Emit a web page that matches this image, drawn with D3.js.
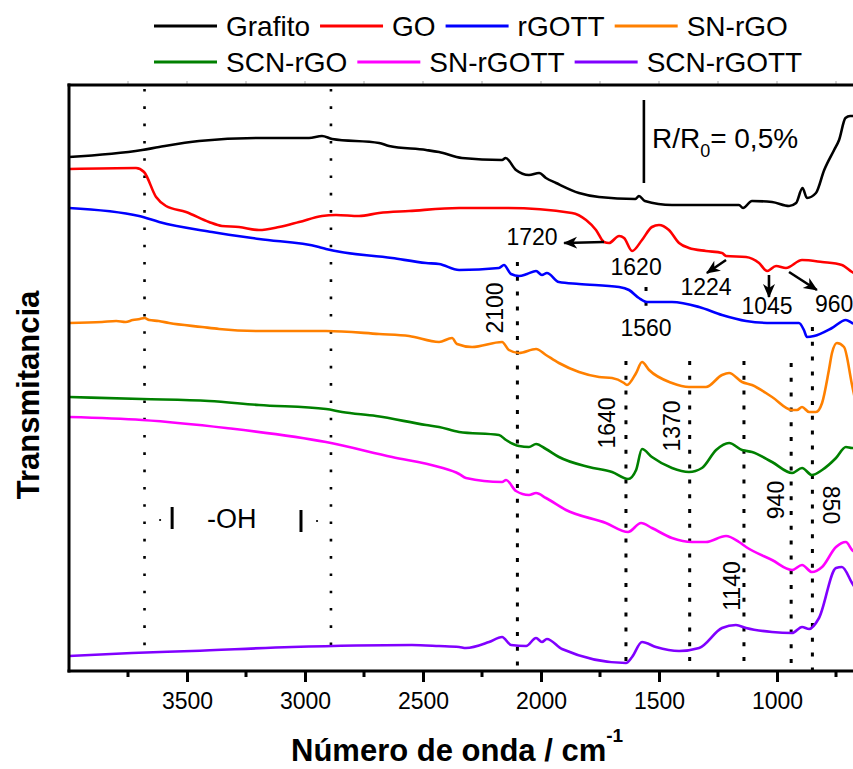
<!DOCTYPE html>
<html>
<head>
<meta charset="utf-8">
<script src="https://cdn.jsdelivr.net/npm/d3@7"></script>
<style>
  html, body { margin: 0; padding: 0; background: #fff; }
  svg { display: block; font-family: "Liberation Sans", Arial, sans-serif; }
</style>
</head>
<body>
<svg id="chart" width="853" height="769"></svg>
<script>
// FTIR spectra, wavenumber (cm-1) vs. offset transmittance (a.u.)
const seriesNames = ["Grafito", "GO", "rGOTT", "SN-rGO", "SCN-rGO", "SN-rGOTT", "SCN-rGOTT"];
const seriesColors = ["#000000", "#ff0000", "#0000ff", "#ff8000", "#008000", "#ff00ff", "#8000ff"];

const grafito = [[4000,514],[3690,521],[3618,524],[3449,530],[3195,533],[2983,533],[2928,535],[2885,532],[2686,528],[2644,525],[2487,521],[2432,519],[2335,513],[2165,511],[2150,513],[2106,501],[2051,496],[2008,498],[1979,493],[1936,488],[1839,478],[1754,474],[1600,472],[1585,475],[1560,470],[1445,466],[1161,466],[1144,463],[1106,470],[1021,469],[949,465],[919,468],[892,483],[873,473],[835,478],[800,501],[758,521],[737,531],[710,553],[690,555],[650,555]];
const go = [[4000,502],[3716,503],[3682,499],[3631,474],[3589,465],[3504,459],[3407,449],[3352,445],[3280,444],[3195,441],[3110,444],[3025,449],[2928,455],[2869,456],[2771,455],[2686,458],[2559,460],[2347,463],[2148,463],[1869,458],[1809,451],[1767,441],[1733,429],[1712,428],[1669,435],[1648,433],[1614,420],[1572,431],[1530,444],[1500,446],[1458,441],[1415,428],[1373,423],[1301,420],[1233,418],[1216,415],[1131,414],[1076,408],[1042,400],[1004,405],[962,403],[894,411],[809,409],[725,406],[682,399],[650,395]];
const rgott = [[4000,463],[3703,455],[3618,449],[3394,439],[3195,432],[2941,424],[2911,422],[2631,413],[2487,408],[2432,407],[2347,401],[2178,403],[2157,406],[2127,397],[2093,395],[2059,397],[2021,400],[1996,396],[1975,398],[1924,389],[1839,387],[1669,384],[1627,381],[1585,373],[1551,369],[1445,369],[1330,364],[1233,356],[1131,350],[1021,348],[907,348],[886,341],[873,334],[843,335],[767,343],[708,351],[682,348],[650,345]];
const snrgo = [[4000,348],[3860,349],[3800,350],[3760,349],[3730,351],[3700,352],[3680,353],[3660,351],[3620,350],[3576,348],[3436,344],[3364,342],[3195,340],[2911,340],[2686,337],[2559,335],[2432,329],[2377,333],[2356,327],[2292,324],[2165,329],[2136,321],[2093,318],[2021,322],[1979,316],[1924,308],[1839,299],[1754,294],[1699,293],[1648,288],[1636,286],[1597,298],[1572,309],[1542,301],[1445,288],[1373,284],[1301,284],[1233,296],[1203,298],[1148,289],[1106,286],[1021,274],[936,261],[915,261],[894,264],[864,259],[835,259],[809,268],[780,301],[767,318],[746,328],[716,324],[682,286],[660,261]];
const scnrgo = [[4000,274],[3690,272],[3407,270],[3195,266],[2911,262],[2843,259],[2699,255],[2487,246],[2432,244],[2347,239],[2178,236],[2148,231],[2093,225],[2051,224],[2021,227],[1979,222],[1924,214],[1797,204],[1699,199],[1631,192],[1597,201],[1572,222],[1530,214],[1445,203],[1373,199],[1318,203],[1258,221],[1203,228],[1148,221],[1106,219],[1021,209],[936,198],[894,203],[852,196],[809,201],[750,213],[708,224],[682,223],[650,223]];
const snrgott = [[4000,254],[3690,251],[3335,243],[2911,229],[2631,214],[2432,204],[2347,197],[2318,193],[2165,189],[2148,191],[2106,180],[2051,176],[2021,178],[1979,173],[1894,161],[1725,148],[1631,139],[1576,148],[1530,143],[1445,133],[1360,129],[1301,129],[1216,135],[1161,129],[1131,124],[1021,111],[936,101],[894,106],[852,99],[809,104],[750,124],[708,129],[682,121],[650,116]];
const scnrgott = [[4000,15],[3733,18],[3479,20],[3055,24],[2547,26],[2432,25],[2347,24],[2318,23],[2220,29],[2165,34],[2127,26],[2063,25],[2021,33],[1996,29],[1975,32],[1911,22],[1640,8],[1614,14],[1572,29],[1513,24],[1415,20],[1330,23],[1233,43],[1174,46],[1131,43],[1021,39],[936,38],[894,44],[864,42],[822,53],[750,103],[725,104],[682,88],[650,76]];
const seriesData = [grafito, go, rgott, snrgo, scnrgo, snrgott, scnrgott];

// axis ticks
const majorTicks = [3500, 3000, 2500, 2000, 1500, 1000];
const minorTicks = [3750, 3250, 2750, 2250, 1750, 1250, 750];

// reference wavenumbers marked with dotted lines: [wavenumber, top value, bottom value]
const ohGuides = [[3680, 582, 18], [2890, 582, 18]];
const bandGuides = [[2100, 409, 0], [1640, 310, 0], [1370, 310, 0], [1140, 310, 0], [940, 308, 0], [850, 344, 0], [1555, 384, 358]];

// peak labels: [text, wavenumber, value, anchor]
const peakLabels = [["1720", 2038, 426, "middle"], ["1620", 1597, 396, "middle"], ["1224", 1301, 376, "middle"], ["1045", 1042, 357, "middle"], ["960", 839, 359, "start"], ["1560", 1555, 335, "middle"]];
// rotated band labels: [text, wavenumber, value, angle]
const bandLabels = [["2100", 2195, 363, -90], ["1640", 1720, 248, -90], ["1370", 1445, 245, -90], ["1140", 1191, 85, -90], ["940", 1004, 171, -90], ["850", 771, 166, 90]];
// arrows: [from wavenumber, from value, to wavenumber, to value]
const arrows = [[1733, 429, 1902, 428], [1216, 411, 1297, 398], [1034, 396, 1034, 374], [949, 399, 831, 381]];

(function draw() {
  const svg = d3.select("#chart");
  const W = 853, H = 769;
  svg.append("rect").attr("width", W).attr("height", H).attr("fill", "#fff");

  const plotLeft = 69, plotTop = 85, plotBottom = 671;
  const x = d3.scaleLinear().domain([4000, 400]).range([plotLeft, plotLeft + 3600 * 0.236]);
  const y = d3.scaleLinear().domain([0, 586]).range([plotBottom, plotTop]);

  // faint ticks on the top frame
  svg.append("g").selectAll("line")
    .data(d3.range(3750, 600, -250))
    .join("line")
    .attr("x1", d => x(d)).attr("x2", d => x(d))
    .attr("y1", plotTop - 4).attr("y2", plotTop)
    .attr("stroke", "#c8c8c8").attr("stroke-width", 1.5);

  // dotted guide lines
  svg.append("g").selectAll("line")
    .data(ohGuides)
    .join("line")
    .attr("x1", d => x(d[0])).attr("x2", d => x(d[0]))
    .attr("y1", d => y(d[1])).attr("y2", d => y(d[2]))
    .attr("stroke", "#000").attr("stroke-width", 2.6)
    .attr("stroke-dasharray", "2.6,14.7");

  svg.append("g").selectAll("line")
    .data(bandGuides)
    .join("line")
    .attr("x1", d => x(d[0])).attr("x2", d => x(d[0]))
    .attr("y1", d => y(d[1])).attr("y2", d => y(d[2]))
    .attr("stroke", "#000").attr("stroke-width", 3)
    .attr("stroke-dasharray", "4,10.8");

  // spectra
  const line = d3.line()
    .x(d => x(d[0]))
    .y(d => y(d[1]))
    .curve(d3.curveMonotoneX);

  svg.append("g").selectAll("path")
    .data(seriesData)
    .join("path")
    .attr("d", d => line(d.slice().sort((a, b) => b[0] - a[0])))
    .attr("fill", "none")
    .attr("stroke", (d, i) => seriesColors[i])
    .attr("stroke-width", 2.6)
    .attr("stroke-linejoin", "round");

  // frame: left and top lines
  svg.append("line").attr("x1", plotLeft).attr("x2", plotLeft).attr("y1", plotTop - 1.5).attr("y2", plotBottom + 1.5)
    .attr("stroke", "#000").attr("stroke-width", 3);
  svg.append("line").attr("x1", plotLeft - 1.5).attr("x2", W + 5).attr("y1", plotTop).attr("y2", plotTop)
    .attr("stroke", "#000").attr("stroke-width", 3);

  // bottom axis
  const xAxis = d3.axisBottom(x).tickValues(majorTicks).tickFormat(d3.format("d"))
    .tickSize(11).tickSizeOuter(0).tickPadding(11);
  const gx = svg.append("g").attr("transform", `translate(0,${plotBottom})`).call(xAxis);
  gx.select(".domain").attr("stroke-width", 3).attr("d", `M${plotLeft - 1.5},0H${W + 5}`);
  gx.selectAll(".tick line").attr("stroke-width", 3);
  gx.selectAll(".tick text").attr("font-size", 23).attr("font-family", "'Liberation Sans', Arial, sans-serif").attr("fill", "#000");
  gx.selectAll(".minor").data(minorTicks).join("line")
    .attr("class", "minor")
    .attr("x1", d => x(d)).attr("x2", d => x(d))
    .attr("y1", 0).attr("y2", 6)
    .attr("stroke", "#000").attr("stroke-width", 3);

  // axis titles
  const xt = svg.append("text")
    .attr("x", 291).attr("y", 761)
    .attr("font-size", 31).attr("font-weight", "bold").attr("fill", "#000");
  xt.append("tspan").text("Número de onda / cm");
  xt.append("tspan").attr("font-size", 19).attr("dy", -19).text("-1");

  svg.append("text")
    .attr("transform", "translate(28,395) rotate(-90)")
    .attr("text-anchor", "middle").attr("dominant-baseline", "central")
    .attr("font-size", 31).attr("font-weight", "bold").attr("fill", "#000")
    .text("Transmitancia");

  // legend, two rows laid out sequentially
  const legendRows = [[0, 1, 2, 3], [4, 5, 6]];
  const legendRowY = [26, 62];
  legendRows.forEach((row, r) => {
    let cx = 154;
    row.forEach(i => {
      const g = svg.append("g");
      g.append("line").attr("x1", cx).attr("x2", cx + 63)
        .attr("y1", legendRowY[r]).attr("y2", legendRowY[r])
        .attr("stroke", seriesColors[i]).attr("stroke-width", 3);
      const t = g.append("text").attr("x", cx + 72).attr("y", legendRowY[r] + 10)
        .attr("font-size", 28).attr("fill", "#000").text(seriesNames[i]);
      cx += 72 + t.node().getComputedTextLength() + 10;
    });
  });

  // scale bar annotation
  svg.append("line").attr("x1", x(1564)).attr("x2", x(1564)).attr("y1", y(571)).attr("y2", y(488))
    .attr("stroke", "#000").attr("stroke-width", 2.6);
  const rt = svg.append("text").attr("x", x(1530)).attr("y", y(523)).attr("font-size", 28).attr("fill", "#000");
  rt.append("tspan").text("R/R");
  rt.append("tspan").attr("font-size", 18).attr("dy", 9).text("0");
  rt.append("tspan").attr("dy", -9).text("= 0,5%");

  // -OH region annotation
  svg.append("text").attr("x", x(3415)).attr("y", y(143)).attr("font-size", 27).attr("fill", "#000").text("-OH");
  const ohBars = [[3563, 164, 142], [3017, 161, 139]];
  svg.append("g").selectAll("line").data(ohBars).join("line")
    .attr("x1", d => x(d[0])).attr("x2", d => x(d[0]))
    .attr("y1", d => y(d[1])).attr("y2", d => y(d[2]))
    .attr("stroke", "#000").attr("stroke-width", 3);
  const ohDots = [[3614, 151], [2949, 150]];
  svg.append("g").selectAll("circle").data(ohDots).join("circle")
    .attr("cx", d => x(d[0])).attr("cy", d => y(d[1])).attr("r", 1.1).attr("fill", "#000");

  // peak labels
  svg.append("g").selectAll("text").data(peakLabels).join("text")
    .attr("x", d => x(d[1])).attr("y", d => y(d[2]))
    .attr("text-anchor", d => d[3])
    .attr("font-size", 23).attr("fill", "#000")
    .text(d => d[0]);

  svg.append("g").selectAll("text").data(bandLabels).join("text")
    .attr("transform", d => `translate(${x(d[1])},${y(d[2])}) rotate(${d[3]})`)
    .attr("text-anchor", "middle").attr("dominant-baseline", "central")
    .attr("font-size", 23).attr("fill", "#000")
    .text(d => d[0]);

  // arrows
  svg.append("defs").append("marker")
    .attr("id", "head").attr("markerUnits", "userSpaceOnUse")
    .attr("markerWidth", 16).attr("markerHeight", 14)
    .attr("refX", 13).attr("refY", 6).attr("orient", "auto")
    .append("path").attr("d", "M0,0 L14,6 L0,12 L4,6 Z").attr("fill", "#000");

  svg.append("g").selectAll("line").data(arrows).join("line")
    .attr("x1", d => x(d[0])).attr("y1", d => y(d[1]))
    .attr("x2", d => x(d[2])).attr("y2", d => y(d[3]))
    .attr("stroke", "#000").attr("stroke-width", 2.6)
    .attr("marker-end", "url(#head)");
})();
</script>
</body>
</html>
